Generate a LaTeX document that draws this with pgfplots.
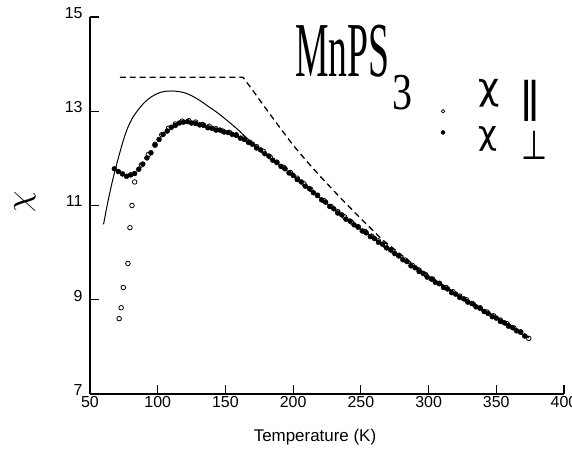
\documentclass[border=0pt]{standalone}
\usepackage{pgfplots}
\pgfplotsset{compat=1.18}
\usepackage{fontspec}
\setmainfont{Liberation Sans}
\newfontfamily\tnr{Liberation Serif}
\newfontfamily\djv{DejaVu Sans}

\begin{document}
\begin{tikzpicture}
\useasboundingbox (0,0) rectangle (572bp,451bp);
\begin{axis}[
    at={(90bp,57bp)}, anchor=south west,
    scale only axis, width=474bp, height=377bp,
    xmin=50, xmax=400, ymin=7, ymax=15,
    axis x line=bottom, axis y line=left,
    axis line style={-, line width=1.6pt},
    xtick={50,100,...,400}, ytick={7,9,11,13,15},
    tick align=inside, major tick length=9bp,
    tick style={line width=1.1pt, black},
    /pgf/number format/assume math mode=true,
    tick label style={font=\fontsize{16}{16}\selectfont},
    xticklabel style={yshift=1bp},
    yticklabel style={xshift=-4bp, yshift=4bp},
    clip=false
]

% theory, solid line
\addplot[no marks, black, line width=1pt, smooth] coordinates {
(60,10.6) (63,11.05) (66,11.45) (69,11.8) (72,12.12) (75,12.42) (78,12.66)
(81,12.84) (85,13.01) (90,13.18) (95,13.3) (100,13.38) (105,13.42) (110,13.43)
(115,13.42) (120,13.39) (125,13.33) (131,13.23) (137,13.11) (144,12.97)
(151,12.81) (158,12.64) (164,12.48) (170,12.32) (176,12.17) (185,11.97)
(200,11.63) (220,11.16) (240,10.70) (260,10.29) (280,9.88) (300,9.47)
(320,9.11) (340,8.77) (360,8.44) (374,8.19)
};

% dashed line
\addplot[no marks, black, line width=1.3pt, dash pattern=on 6pt off 4pt] coordinates {
(72,13.72) (163,13.72) (170,13.45) (180,13.05) (190,12.66) (200,12.28)
(210,11.94) (220,11.62) (235,11.16) (250,10.72) (266,10.27) (280,9.95)
(290,9.72) (300,9.51) (320,9.14) (340,8.80) (360,8.47) (374,8.21)
};

% chi perpendicular, filled dots
\addplot[only marks, mark=*, mark size=2.5pt, black] coordinates {
(68,11.78) (71,11.72) (74,11.67) (77,11.62) (80,11.65) (83,11.68) (86,11.77)
(89,11.88) (92,12.01) (95,12.12) (98,12.28) (101,12.40) (104,12.51) (107,12.58)
(110,12.66) (113,12.70) (116,12.75) (119,12.77) (122,12.78) (125,12.75)
(128,12.74) (131,12.71) (134,12.70) (137,12.65) (140,12.64) (143,12.60)
(146,12.60) (149,12.56) (152,12.55) (155,12.51) (158,12.49) (161,12.43)
(164,12.40) (167,12.34) (170,12.30) (173,12.22) (176,12.18) (179,12.10)
(182,12.05) (185,11.96) (188,11.91) (191,11.83) (194,11.78) (197,11.69)
(200,11.64) (203,11.55) (206,11.50) (209,11.41) (212,11.36) (215,11.27)
(218,11.21) (221,11.12) (224,11.07) (227,10.98) (230,10.93) (233,10.84)
(236,10.80) (239,10.71) (242,10.67) (245,10.59) (248,10.54) (251,10.46)
(254,10.42) (257,10.34) (260,10.30) (263,10.22) (266,10.18) (269,10.10)
(272,10.06) (275,9.98) (278,9.93) (281,9.85) (284,9.81) (287,9.72)
(290,9.68) (293,9.60) (296,9.56) (299,9.48) (302,9.44) (305,9.37)
(308,9.34) (311,9.26) (314,9.23) (317,9.15) (320,9.12) (323,9.05)
(326,9.02) (329,8.95) (332,8.92) (335,8.85) (338,8.82) (341,8.75)
(344,8.71) (347,8.64) (350,8.61) (353,8.54) (356,8.51) (359,8.44)
(362,8.41) (365,8.34) (368,8.31) (371,8.23)
};

% chi parallel, open circles
\addplot[only marks, mark=o, mark size=2.3pt, black, line width=0.8pt] coordinates {
(71.5,8.6) (73,8.83) (74.6,9.26) (78,9.77) (79.5,10.53) (81,11.0) (83,11.5)
(88,11.86) (93,12.08) (98,12.30) (103,12.50) (108,12.64) (113,12.73)
(118,12.79) (123,12.80) (128,12.77) (133,12.72) (138,12.68) (143,12.63)
(148,12.58) (153,12.55) (158,12.50) (163,12.43) (168,12.34) (173,12.25)
(178,12.15) (183,12.03) (188,11.92) (193,11.81) (198,11.70) (203,11.58)
(208,11.46) (213,11.34) (218,11.22) (223,11.10) (228,10.98) (233,10.87)
(238,10.76) (243,10.65) (248,10.55) (253,10.45) (258,10.35) (263,10.25)
(268,10.15) (273,10.04) (278,9.94) (283,9.84) (288,9.73) (293,9.63)
(298,9.53) (303,9.44) (308,9.35) (313,9.26) (318,9.17) (323,9.08)
(328,9.00) (333,8.91) (338,8.83) (343,8.74) (348,8.66) (353,8.57)
(358,8.49) (363,8.40) (368,8.32) (374,8.18)
};

% legend symbols
\addplot[only marks, mark=o, mark size=1.8pt, black, line width=0.7pt] coordinates {(310.7,13.0)};
\addplot[only marks, mark=*, mark size=2pt, black] coordinates {(310.7,12.55)};
\end{axis}

% texts, placed in page coordinates (bp)
\node[anchor=base west, inner sep=0pt] at (295bp,374bp)
    {\scalebox{0.485}[1]{\tnr\fontsize{78}{80}\selectfont MnPS}};
\node[anchor=base west, inner sep=0pt] at (392bp,341bp)
    {\scalebox{0.77}[1]{\tnr\fontsize{52}{54}\selectfont 3}};
\node[anchor=base west, inner sep=0pt] at (478bp,351bp)
    {\djv\fontsize{37}{38}\selectfont χ};
\node[anchor=base west, inner sep=0pt] at (478bp,306bp)
    {\djv\fontsize{33}{34}\selectfont χ};
\node[anchor=south west, inner sep=0pt] at (518bp,329bp)
    {\scalebox{1.7}[1.5]{\djv\fontsize{28}{30}\selectfont ∥}};
\node[anchor=south west, inner sep=0pt] at (521bp,291bp)
    {\scalebox{1}[1.35]{\djv\fontsize{30}{32}\selectfont ⊥}};
\node[anchor=base, inner sep=0pt] at (315bp,10bp)
    {\fontsize{17}{17}\selectfont Temperature (K)};
\node[rotate=90, inner sep=0pt] at (25bp,249bp)
    {\scalebox{3.4}{$\chi$}};
\end{tikzpicture}
\end{document}
